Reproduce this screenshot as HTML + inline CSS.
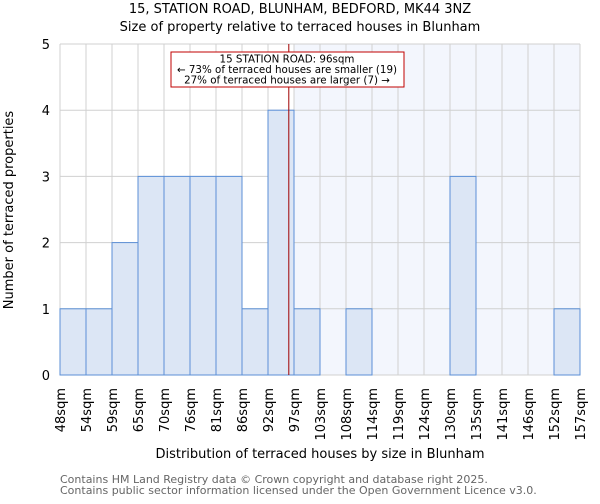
<!DOCTYPE html>
<html><head><meta charset="utf-8"><style>
body{margin:0;background:#fff;font-family:"DejaVu Sans","Liberation Sans",sans-serif}
text{font-family:"DejaVu Sans","Liberation Sans",sans-serif}
</style></head><body>
<svg id="chart" width="600" height="500" xmlns="http://www.w3.org/2000/svg">
<text x="300" y="13" text-anchor="middle" font-size="13">15, STATION ROAD, BLUNHAM, BEDFORD, MK44 3NZ</text>
<text x="300" y="31" text-anchor="middle" font-size="13">Size of property relative to terraced houses in Blunham</text>
<g id="plot"></g>
<text transform="translate(13,210) rotate(-90)" text-anchor="middle" font-size="13">Number of terraced properties</text>
<text x="320" y="458" text-anchor="middle" font-size="13">Distribution of terraced houses by size in Blunham</text>
<text x="60" y="483" font-size="11" fill="#666">Contains HM Land Registry data © Crown copyright and database right 2025.</text>
<text x="60" y="494" font-size="11" fill="#666">Contains public sector information licensed under the Open Government Licence v3.0.</text>
</svg>
<script>
const tickLabels=["48sqm","54sqm","59sqm","65sqm","70sqm","76sqm","81sqm","86sqm","92sqm","97sqm","103sqm","108sqm","114sqm","119sqm","124sqm","130sqm","135sqm","141sqm","146sqm","152sqm","157sqm"];
const counts=[1,1,2,3,3,3,3,1,4,1,0,1,0,0,0,3,0,0,0,1];
const yTicks=[0,1,2,3,4,5];
const propertyBin=8.8;
const ns="http://www.w3.org/2000/svg";
const X0=60,X1=580,Y0=375,Y1=44,YMAX=5;
const bw=(X1-X0)/counts.length;
const xs=i=>X0+i*bw;
const ys=v=>Y0-(Y0-Y1)*v/YMAX;
const g=document.getElementById('plot');
function mk(t,a){const e=document.createElementNS(ns,t);for(const k in a)e.setAttribute(k,a[k]);g.appendChild(e);return e;}
const px=xs(propertyBin);
const sh=mk('rect',{x:xs(Math.ceil(propertyBin)),y:Y1,width:X1-xs(Math.ceil(propertyBin)),height:Y0-Y1,fill:'#f3f6fd'});


for(let i=0;i<=counts.length;i++){const l=mk('line',{x1:xs(i),x2:xs(i),y1:Y1,y2:Y0,stroke:'#d0d0d0'});

}
yTicks.forEach(v=>{const l=mk('line',{x1:X0,x2:X1,y1:ys(v),y2:ys(v),stroke:'#d0d0d0'});


const t=mk('text',{x:X0-10,y:ys(v)+5,'text-anchor':'end','font-size':13});t.textContent=v;

});
counts.forEach((c,i)=>{if(c<=0)return;const r=mk('rect',{x:xs(i),y:ys(c),width:bw,height:Y0-ys(c),fill:'#dce6f5',stroke:'#5b8fd6','stroke-width':1});

});
tickLabels.forEach((s,i)=>{const t=mk('text',{transform:`translate(${xs(i)+5},388) rotate(-90)`,'text-anchor':'end','font-size':13});t.textContent=s;

});
const ml=mk('line',{x1:px,x2:px,y1:Y1,y2:Y0,stroke:'#a00000','stroke-width':1});


const bx=mk('rect',{x:171,y:52,width:233,height:35,fill:'#fff',stroke:'#c00000'});


["15 STATION ROAD: 96sqm","← 73% of terraced houses are smaller (19)","27% of terraced houses are larger (7) →"].forEach((s,k)=>{const t=mk('text',{x:287,y:62.5+k*10.5,'text-anchor':'middle','font-size':10.3});t.textContent=s;

});
</script>
</body></html>
